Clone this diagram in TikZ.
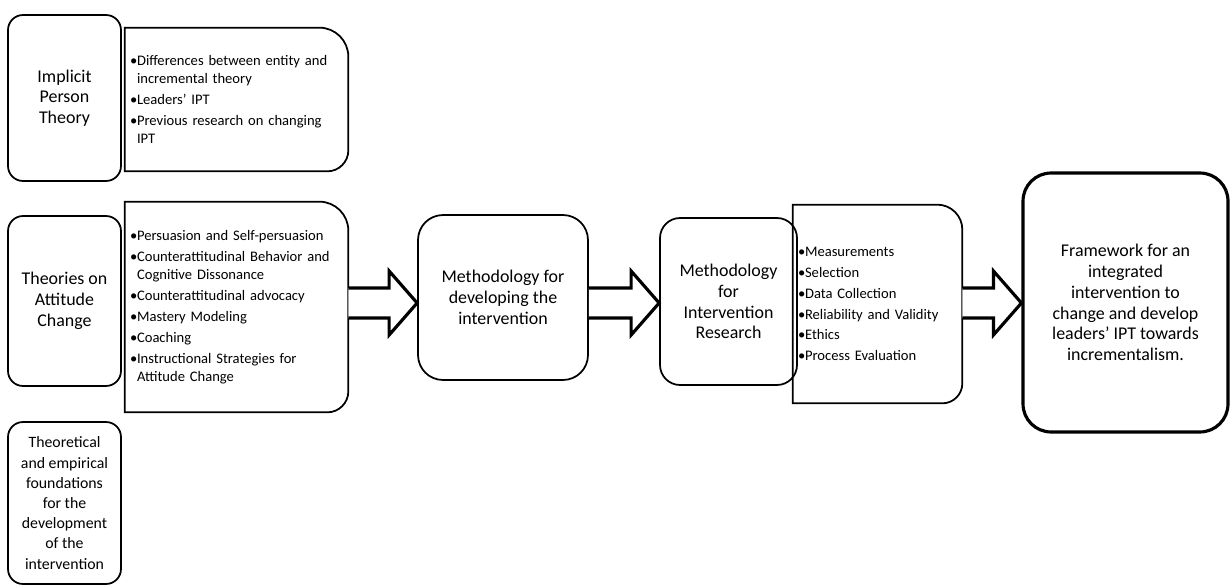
\documentclass[tikz,border=0pt]{standalone}
\usepackage{fontspec}
\setmainfont{Carlito}
\usetikzlibrary{calc}
\newcommand{\mainfs}{\fontsize{10.2}{11.8}\selectfont}
\newcommand{\footfs}{\fontsize{9}{11.5}\selectfont}
\newcommand{\listfs}{\fontsize{8.3}{10.2}\selectfont}
\newcommand{\bul}{\makebox[4pt][l]{•}}
\newcommand{\ind}{\hspace*{4pt}}

\begin{document}
\begin{tikzpicture}[
  x=0.02cm, y=0.02cm,
  rbox/.style={draw, line width=1pt, rounded corners=0.3cm, align=center, inner sep=2pt, font=\mainfs},
  lbox/.style={align=left, inner xsep=0.1cm, inner ysep=0pt, font=\listfs},
  blockarr/.style={draw, line width=1.8pt, fill=white, line join=miter}
]
  \useasboundingbox (0,0) rectangle (1230,586);

  % left column
  \node[rbox, minimum width=2.26cm, minimum height=3.32cm] (imp) at (64.5,488) {Implicit\\Person\\Theory};
  \node[rbox, minimum width=2.26cm, minimum height=3.4cm] (theo) at (64.5,285) {Theories on\\Attitude\\Change};
  \node[rbox, minimum width=2.26cm, minimum height=3.24cm, font=\footfs] (found) at (64.5,83)
    {Theoretical\\and empirical\\foundations\\for the\\development\\of the\\intervention};

  % bullet lists
  \node[lbox, text width=4.26cm, minimum height=2.86cm] (iptlist) at (236.5,486.5) {%
    \bul Differences between entity and\\
    \ind incremental theory\\[1.7pt]
    \bul Leaders' IPT\\[1.7pt]
    \bul Previous research on changing\\
    \ind IPT};
  \node[lbox, text width=4.26cm, minimum height=4.2cm] (attlist) at (236.5,279) {%
    \bul Persuasion and Self-persuasion\\[1.7pt]
    \bul Counterattitudinal Behavior and\\
    \ind Cognitive Dissonance\\[1.7pt]
    \bul Counterattitudinal advocacy\\[1.7pt]
    \bul Mastery Modeling\\[1.7pt]
    \bul Coaching\\[1.7pt]
    \bul Instructional Strategies for\\
    \ind Attitude Change};
  \node[lbox, text width=3.18cm, minimum height=3.96cm] (reslist) at (877.5,282) {%
    \bul Measurements\\[1.7pt]
    \bul Selection\\[1.7pt]
    \bul Data Collection\\[1.7pt]
    \bul Reliability and Validity\\[1.7pt]
    \bul Ethics\\[1.7pt]
    \bul Process Evaluation};

  \foreach \lst/\rt/\rb in {iptlist/0.58cm/0.42cm, attlist/0.58cm/0.42cm, reslist/0.5cm/0.4cm}{
    \draw[line width=1pt] (\lst.south west) -- (\lst.north west)
      -- ([xshift=-\rt]\lst.north east) arc[start angle=90, end angle=0, radius=\rt]
      -- ([yshift=\rb]\lst.south east) arc[start angle=0, end angle=-90, radius=\rb] -- cycle;
  }

  % main flow
  \node[rbox, rounded corners=0.5cm, minimum width=3.4cm, minimum height=3.3cm] (dev) at (503,288.5)
    {Methodology for\\developing the\\intervention};
  \node[rbox, rounded corners=0.4cm, minimum width=2.74cm, minimum height=3.34cm] (res) at (728.5,284.5)
    {Methodology\\for\\Intervention\\Research};
  \node[rbox, line width=1.8pt, rounded corners=0.56cm, minimum width=4.1cm, minimum height=5.18cm] (frame) at (1125.5,283.5)
    {Framework for an\\integrated\\intervention to\\change and develop\\leaders' IPT towards\\incrementalism.};

  % block arrows
  \coordinate (mid) at (0,283);
  \foreach \src/\dst in {attlist/dev, dev/res, reslist/frame}{
    \draw[blockarr] ($(\src.east |- mid)+(0,15)$) -- ($(\dst.west |- mid)+(-28,15)$)
      -- ($(\dst.west |- mid)+(-28,32)$) -- (\dst.west |- mid)
      -- ($(\dst.west |- mid)+(-28,-32)$) -- ($(\dst.west |- mid)+(-28,-15)$)
      -- ($(\src.east |- mid)+(0,-15)$);
  }
\end{tikzpicture}
\end{document}
